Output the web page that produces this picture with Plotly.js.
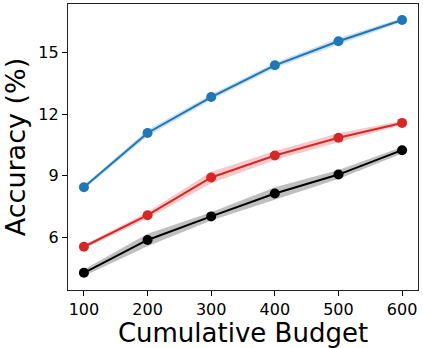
<!DOCTYPE html>
<html>
<head>
<meta charset="utf-8">
<script src="https://cdn.plot.ly/plotly-3.0.1.min.js"></script>
<style>
  body { margin: 0; background: #fff; }
  #chart { width: 423px; height: 348px; }
</style>
</head>
<body>
<div id="chart"></div>
<script>
// budgets on the x axis
var budgets = [100, 200, 300, 400, 500, 600];

// mean accuracy per method
var blueMean = [8.44, 11.09, 12.84, 14.39, 15.56, 16.60];
var redMean = [5.54, 7.08, 8.92, 9.99, 10.86, 11.58];
var blackMean = [4.27, 5.87, 7.02, 8.14, 9.06, 10.25];

// half width of the shaded bands
var blueErr = [0.10, 0.15, 0.13, 0.13, 0.15, 0.10];
var redErr = [0.10, 0.16, 0.28, 0.22, 0.22, 0.10];
var blackErr = [0.16, 0.30, 0.20, 0.30, 0.22, 0.16];

var yTicks = [6, 9, 12, 15];
var xTicks = [100, 200, 300, 400, 500, 600];

function bandTraces(mean, err, line, fill) {
  var upper = mean.map(function(v, i) { return v + err[i]; });
  var lower = mean.map(function(v, i) { return v - err[i]; });
  return [
    { x: budgets, y: lower, mode: 'lines', line: { width: 0 }, hoverinfo: 'skip', showlegend: false },
    { x: budgets, y: upper, mode: 'lines', line: { width: 0 }, fill: 'tonexty', fillcolor: fill, hoverinfo: 'skip', showlegend: false },
    { x: budgets, y: mean, mode: 'lines+markers', line: { color: line, width: 2 },
      marker: { color: line, size: 10 }, showlegend: false }
  ];
}

var data = []
  .concat(bandTraces(blackMean, blackErr, '#000000', 'rgba(0,0,0,0.25)'))
  .concat(bandTraces(redMean, redErr, '#d62728', 'rgba(214,39,40,0.25)'))
  .concat(bandTraces(blueMean, blueErr, '#1f77b4', 'rgba(31,119,180,0.25)'));

var font = 'DejaVu Sans, sans-serif';

var layout = {
  width: 423,
  height: 348,
  margin: { l: 68, r: 5, t: 4, b: 58 },
  paper_bgcolor: '#fff',
  plot_bgcolor: '#fff',
  showlegend: false,
  xaxis: {
    range: [75, 625],
    tickvals: xTicks,
    ticktext: xTicks.map(String),
    ticks: 'outside', ticklen: 5, tickwidth: 1, tickcolor: '#000',
    showgrid: false, zeroline: false,
    showline: true, mirror: true, linecolor: '#222', linewidth: 1.2,
    tickfont: { family: font, size: 16, color: '#000' },
    title: { text: 'Cumulative Budget', font: { family: font, size: 26, color: '#000' }, standoff: 5 }
  },
  yaxis: {
    range: [3.43, 17.38],
    tickvals: yTicks,
    ticktext: yTicks.map(String),
    ticks: 'outside', ticklen: 5, tickwidth: 1, tickcolor: '#000',
    showgrid: false, zeroline: false,
    showline: true, mirror: true, linecolor: '#222', linewidth: 1.2,
    tickfont: { family: font, size: 16, color: '#000' },
    title: { text: 'Accuracy (%)', font: { family: font, size: 27, color: '#000' }, standoff: 7 }
  }
};

Plotly.newPlot('chart', data, layout, { displayModeBar: false, staticPlot: true });
</script>
</body>
</html>
